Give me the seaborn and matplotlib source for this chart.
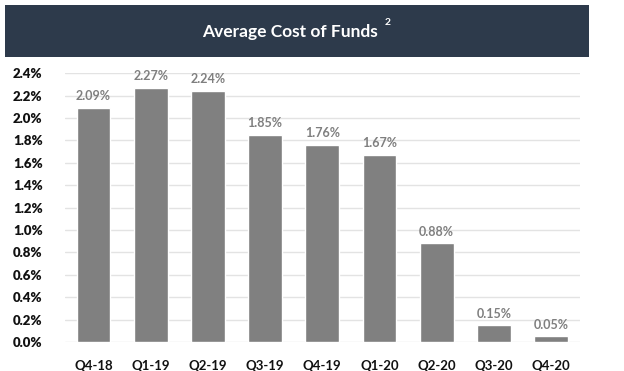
import matplotlib
matplotlib.use("Agg")
import matplotlib.pyplot as plt
import seaborn as sns
import pandas as pd
from matplotlib.patches import Rectangle

quarters = ['Q4-18', 'Q1-19', 'Q2-19', 'Q3-19', 'Q4-19', 'Q1-20', 'Q2-20', 'Q3-20', 'Q4-20']
cost_of_funds = [2.09, 2.27, 2.24, 1.85, 1.76, 1.67, 0.88, 0.15, 0.05]
y_ticks = [0.0, 0.2, 0.4, 0.6, 0.8, 1.0, 1.2, 1.4, 1.6, 1.8, 2.0, 2.2, 2.4]

df = pd.DataFrame({'quarter': quarters, 'cost': cost_of_funds})

sns.set_style('white')
plt.rcParams['font.family'] = ['Lato', 'DejaVu Sans']

fig = plt.figure(figsize=(6.24, 3.71), dpi=100)
ax = fig.add_axes([0.104, 0.078, 0.825, 0.725])

sns.barplot(data=df, x='quarter', y='cost', color='#808080', saturation=1,
            width=0.59, ax=ax, zorder=3)

# value labels
for i, v in enumerate(cost_of_funds):
    ax.text(i, v + 0.05, '%.2f%%' % v, ha='center', va='bottom',
            fontsize=9, fontweight='bold', color='#7f7f7f')

ax.set_ylim(0, 2.4)
ax.set_xlim(-0.5, 8.5)
ax.set_yticks(y_ticks)
ax.set_yticklabels(['%.1f%%' % t for t in y_ticks])
ax.yaxis.grid(True, color='#e3e3e3', linewidth=1, zorder=0)
ax.set_axisbelow(True)
for s in ax.spines.values():
    s.set_visible(False)
ax.tick_params(axis='y', length=0, pad=16, labelsize=9.5, labelcolor='#111111')
ax.tick_params(axis='x', length=0, pad=13, labelsize=9.5, labelcolor='#111111')
for lab in ax.get_yticklabels():
    lab.set_fontweight('heavy')
for lab in ax.get_xticklabels():
    lab.set_fontweight('bold')
ax.set_xlabel('')
ax.set_ylabel('')

# title banner
fig.patches.append(Rectangle((0.008, 0.846), 0.936, 0.141, transform=fig.transFigure,
                             facecolor='#2d3a4b', edgecolor='none', zorder=0))
fig.text(0.465, 0.914, 'Average Cost of Funds', ha='center', va='center',
         color='white', fontsize=12.5, fontweight='bold')
fig.text(0.621, 0.94, '2', ha='center', va='center', color='white',
         fontsize=7.5, fontweight='bold')

fig.savefig('out.png', dpi=100, facecolor='white')
